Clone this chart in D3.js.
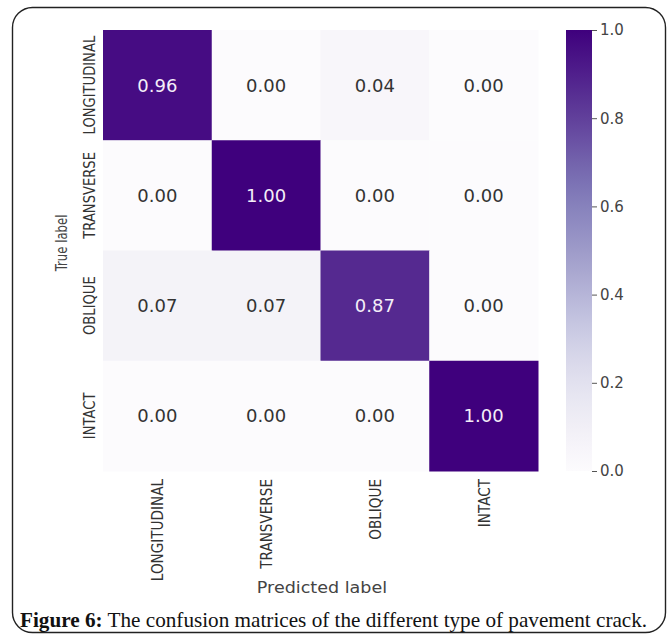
<!DOCTYPE html>
<html>
<head>
<meta charset="utf-8">
<script src="https://cdn.jsdelivr.net/npm/d3@7"></script>
<style>
  body { margin: 0; background: #fff; }
  svg { display: block; }
</style>
</head>
<body>
<div id="chart"></div>
<script>
// classes, true rows / predicted columns
var labels = ["LONGITUDINAL", "TRANSVERSE", "OBLIQUE", "INTACT"];
var row0 = [0.96, 0.00, 0.04, 0.00];
var row1 = [0.00, 1.00, 0.00, 0.00];
var row2 = [0.07, 0.07, 0.87, 0.00];
var row3 = [0.00, 0.00, 0.00, 1.00];
var matrix = [row0, row1, row2, row3];
var cbTicks = [0.0, 0.2, 0.4, 0.6, 0.8, 1.0];

var W = 669, H = 635;
var svg = d3.select("#chart").append("svg")
    .attr("width", W).attr("height", H);

// frame round the figure
svg.append("rect")
    .attr("x", 12.5).attr("y", 7.5)
    .attr("width", 653).attr("height", 625)
    .attr("rx", 20).attr("ry", 20)
    .attr("fill", "none").attr("stroke", "#222").attr("stroke-width", 1.4);

var mLeft = 103, mTop = 30, mRight = 538, mBottom = 471;

var x = d3.scaleBand().domain(d3.range(4)).range([mLeft, mRight]);
var y = d3.scaleBand().domain(d3.range(4)).range([mTop, mBottom]);
var color = d3.scaleSequential(d3.interpolatePurples).domain([0, 1]);

var cells = [];
matrix.forEach(function (r, i) {
    r.forEach(function (v, j) { cells.push({ i: i, j: j, v: v }); });
});

var g = svg.append("g");
g.selectAll("rect.cell")
    .data(cells)
    .enter().append("rect")
    .attr("class", "cell")
    .attr("x", function (d) { return x(d.j); })
    .attr("y", function (d) { return y(d.i); })
    .attr("width", x.bandwidth() + 0.5)
    .attr("height", y.bandwidth() + 0.5)
    .attr("fill", function (d) { return color(d.v); });

g.selectAll("text.val")
    .data(cells)
    .enter().append("text")
    .attr("class", "val")
    .attr("x", function (d) { return x(d.j) + x.bandwidth() / 2; })
    .attr("y", function (d) { return y(d.i) + y.bandwidth() / 2; })
    .attr("dy", "0.36em")
    .attr("text-anchor", "middle")
    .style("font-family", "DejaVu Sans, sans-serif")
    .style("font-size", "18px")
    .attr("fill", function (d) { return d.v > 0.5 ? "#f4eef8" : "#333"; })
    .text(function (d) { return d.v.toFixed(2); });

// row tick labels (condensed look)
svg.selectAll("text.rowlab")
    .data(labels)
    .enter().append("text")
    .attr("class", "rowlab")
    .attr("transform", function (d, i) {
        return "translate(" + 95 + "," + (y(i) + y.bandwidth() / 2) + ") rotate(-90) scale(0.82,1)";
    })
    .attr("text-anchor", "middle")
    .style("font-family", "DejaVu Sans, sans-serif")
    .style("font-size", "16px")
    .attr("fill", "#333")
    .text(function (d) { return d; });

// column tick labels
svg.selectAll("text.collab")
    .data(labels)
    .enter().append("text")
    .attr("class", "collab")
    .attr("transform", function (d, j) {
        return "translate(" + (x(j) + x.bandwidth() / 2 + 6) + "," + 479 + ") rotate(-90) scale(0.85,1)";
    })
    .attr("text-anchor", "end")
    .style("font-family", "DejaVu Sans, sans-serif")
    .style("font-size", "16px")
    .attr("fill", "#333")
    .text(function (d) { return d; });

// axis titles
svg.append("text")
    .attr("transform", "translate(67,243) rotate(-90) scale(0.73,1)")
    .attr("text-anchor", "middle")
    .style("font-family", "DejaVu Sans, sans-serif")
    .style("font-size", "16px")
    .attr("fill", "#444")
    .text("True label");

svg.append("text")
    .attr("transform", "translate(" + 322 + ",593) scale(1.17,1)")
    .attr("text-anchor", "middle")
    .style("font-family", "DejaVu Sans, sans-serif")
    .style("font-size", "15px")
    .attr("fill", "#444")
    .text("Predicted label");

// colorbar
var cbX = 566, cbW = 26;
var cy = d3.scaleLinear().domain([0, 1]).range([mBottom, mTop]);
var defs = svg.append("defs");
var grad = defs.append("linearGradient")
    .attr("id", "cbgrad")
    .attr("x1", 0).attr("y1", 1).attr("x2", 0).attr("y2", 0);
grad.selectAll("stop")
    .data(d3.range(0, 1.001, 0.05))
    .enter().append("stop")
    .attr("offset", function (d) { return d; })
    .attr("stop-color", function (d) { return color(d); });

svg.append("rect")
    .attr("x", cbX).attr("y", mTop)
    .attr("width", cbW).attr("height", mBottom - mTop)
    .attr("fill", "url(#cbgrad)");

var cbAxis = svg.append("g")
    .attr("transform", "translate(" + (cbX + cbW) + ",0)")
    .call(d3.axisRight(cy).tickValues(cbTicks).tickSize(5).tickPadding(3)
        .tickFormat(d3.format(".1f")));
cbAxis.select(".domain").remove();
cbAxis.selectAll("line").attr("stroke", "#555");
cbAxis.selectAll("text")
    .style("font-family", "DejaVu Sans, sans-serif")
    .style("font-size", "15px")
    .attr("fill", "#444");

// caption
var cap = svg.append("text")
    .attr("x", 20).attr("y", 627)
    .style("font-family", "Liberation Serif, serif")
    .style("font-size", "21.2px")
    .attr("fill", "#111");
cap.append("tspan").style("font-weight", "bold").text("Figure 6:");
cap.append("tspan").text(" The confusion matrices of the different type of pavement crack.");
</script>
</body>
</html>
